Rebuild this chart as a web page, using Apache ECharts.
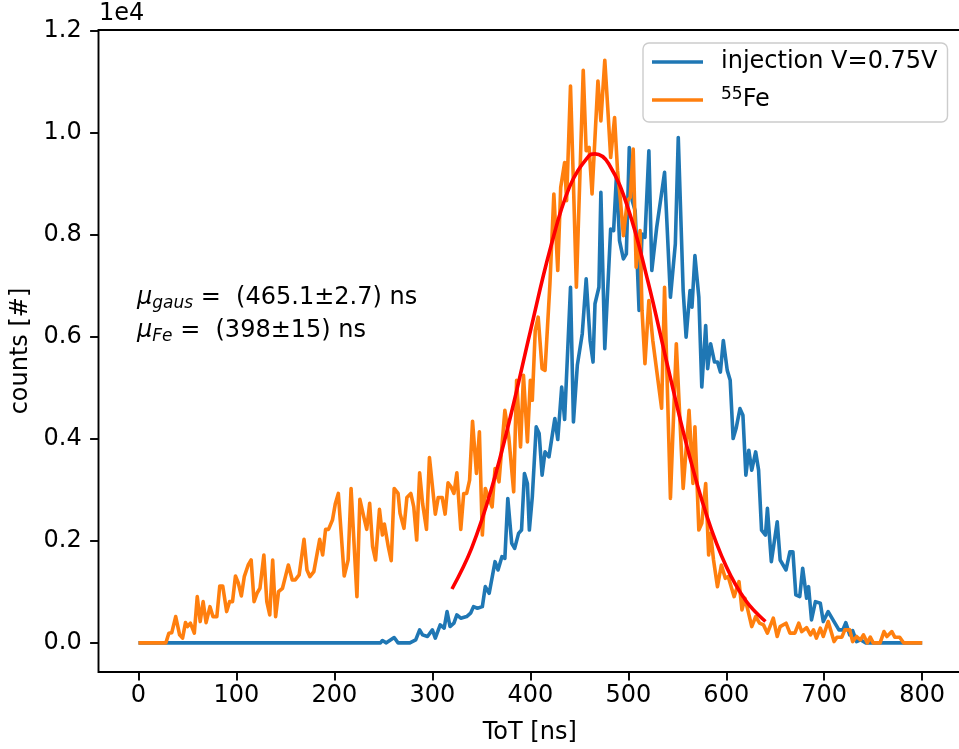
<!DOCTYPE html>
<html>
<head>
<meta charset="utf-8">
<script src="https://cdn.jsdelivr.net/npm/echarts@6/dist/echarts.min.js"></script>
<style>html,body{margin:0;padding:0;background:#fff;}#c{width:959px;height:749px;}</style>
</head>
<body>
<div id="c"></div>
<script>
// ---- data ----
const xTicks = [0, 100, 200, 300, 400, 500, 600, 700, 800];
const yTicks = [0, 2000, 4000, 6000, 8000, 10000, 12000];

const injName = 'injection V=0.75V';
const feName = '55Fe';

const injX = [0,247,249,253,261,265,277,283,287,290,295,300,303,308,312,315,318,322,325,329,335,339,342,346,351,354,358,364,367,371,374,377,381,384,388,391,394,397,399,402,406,409,412,415,419,425,428,432,435,441,444,448,453,457,461,464,466,470,472,476,482,485,488,491,495,498,501,504,507,511,514,517,521,524,529,537,543,548,551,556,559,563,565,568,572,575,579,581,584,588,591,594,597,601,604,607,610,614,617,620,623,626,630,633,636,640,642,646,652,655,661,665,668,671,675,678,682,684,687,691,696,699,704,710,715,719,722,726,729,733,737,742,800];
const injY = [0,0,45,0,104,0,0,59,254,157,124,254,92,352,287,613,320,385,548,483,515,581,710,679,710,1102,972,1592,1429,1690,1658,2832,1951,1853,2147,2212,3322,3126,2212,2864,4235,4105,3289,3745,3647,4399,3987,5017,4380,6975,4333,5450,6063,7139,5931,5507,6650,6975,8835,5769,8118,8085,9195,7889,7531,7629,9716,8672,8476,6519,8020,7954,9651,7302,8150,9227,6779,7824,9911,6910,5996,6910,6584,7596,6779,5017,6225,5378,5867,5507,5507,5311,5931,5344,5149,4007,4203,4594,4463,3289,3778,3387,3745,3387,2212,2114,2637,1592,2375,1625,1429,1787,1787,940,906,1462,875,1102,450,808,777,417,613,417,254,254,397,157,241,25,59,0,0];

const feX = [0,28,31,34,38,42,45,48,50,53,57,60,63,66,69,73,76,80,83,86,90,93,96,99,102,105,108,112,115,118,121,124,128,131,134,137,140,143,147,150,153,157,160,164,169,172,175,179,185,188,191,194,198,201,204,210,214,217,223,226,230,233,236,239,242,246,249,251,255,258,261,265,267,271,274,278,281,284,287,290,294,297,303,306,310,313,316,319,322,325,329,332,335,338,341,345,348,351,354,357,361,364,368,374,378,383,386,390,393,397,400,402,405,408,412,415,420,424,428,431,435,437,441,444,447,454,457,460,463,469,472,476,479,482,486,489,492,495,499,502,505,508,512,514,517,521,525,534,537,543,549,556,562,566,568,572,575,579,582,584,587,591,595,599,602,608,613,616,619,622,626,630,634,638,642,648,652,655,661,665,670,674,677,682,686,689,692,696,699,704,710,713,718,721,726,729,733,737,740,744,747,750,757,761,764,769,772,777,781,800];
const feY = [0,0,190,200,515,157,92,397,320,385,190,906,417,808,397,710,515,515,1116,1116,613,808,808,1311,1168,920,1298,1527,1625,808,972,1070,1723,808,548,1625,515,1004,1070,1298,1527,1233,1233,1331,2030,1429,1298,1396,2030,1723,2226,2226,2408,2735,2930,1311,1625,3028,906,2813,2472,2226,2735,1885,1625,2617,2114,2330,1885,1611,3028,2930,2539,2245,2852,2930,2668,2016,3334,2735,2226,3635,2525,2852,2852,2525,3138,3060,2930,3334,2226,2930,2930,3191,4346,3322,4137,2114,3028,2864,2668,3420,3158,4561,4039,2962,5149,3843,5246,3941,5149,4757,6127,6388,5378,5344,7041,8804,7302,8933,9422,8672,10923,9000,6975,11231,9651,9716,8804,11021,10238,11427,10499,9520,10303,9260,8672,7987,8672,8737,9684,7366,8085,6519,5475,6715,5931,4600,6975,2833,5867,3028,4561,3126,4235,2212,2343,3126,1723,2147,1625,1102,1527,1266,1298,906,1200,646,875,646,319,515,385,352,190,483,124,319,385,190,190,385,221,300,157,254,92,287,124,417,25,111,111,254,254,25,124,59,157,0,111,0,0,221,124,221,111,111,0,0];

const fitX = [320,340,360,380,400,420,440,460,466,480,500,520,540,560,580,600,620,640];
const fitY = [1056,1854,2997,4460,6110,7704,8942,9555,9590,9397,8508,7092,5441,3843,2498,1495,824,418];

const pairs = (xs, ys) => xs.map((x, i) => [x, ys[i]]);
const FONT = 'DejaVu Sans';
const FS = 24;

const chart = echarts.init(document.getElementById('c'), null, {renderer: 'canvas'});
const mathRich = {
  mu: {fontFamily: FONT, fontStyle: 'italic', fontSize: FS, fill: '#000', lineHeight: 28},
  sub: {fontFamily: FONT, fontStyle: 'italic', fontSize: 17, fill: '#000', verticalAlign: 'bottom', lineHeight: 16},
  t: {fontFamily: FONT, fontSize: FS, fill: '#000', lineHeight: 28}
};
chart.setOption({
  animation: false,
  backgroundColor: '#fff',
  grid: {
    left: 98.5, top: 30, width: 862.5, height: 642,
    show: true, borderColor: '#000', borderWidth: 1.9, backgroundColor: 'transparent',
    containLabel: false, outerBoundsMode: 'none'
  },
  xAxis: {
    type: 'value', min: -40.8, max: 839.6,
    name: 'ToT [ns]', nameLocation: 'middle', nameGap: 49,
    nameTextStyle: {fontFamily: FONT, fontSize: FS, color: '#000'},
    axisLine: {show: false, onZero: false},
    splitLine: {show: false},
    axisTick: {show: true, customValues: xTicks, length: 8.4, lineStyle: {color: '#000', width: 1.9}},
    axisLabel: {customValues: xTicks, margin: 12, fontFamily: FONT, fontSize: FS, color: '#000'}
  },
  yAxis: {
    type: 'value', min: -572, max: 12020,
    name: 'counts [#]', nameLocation: 'middle', nameGap: 63,
    nameTextStyle: {fontFamily: FONT, fontSize: FS, color: '#000'},
    axisLine: {show: false, onZero: false},
    splitLine: {show: false},
    axisTick: {show: true, customValues: yTicks, length: 8.4, lineStyle: {color: '#000', width: 1.9}},
    axisLabel: {customValues: yTicks, margin: 16.8, fontFamily: FONT, fontSize: FS, color: '#000',
      formatter: v => (v / 10000).toFixed(1)}
  },
  legend: {
    data: [injName, feName],
    orient: 'vertical', left: 643, top: 43,
    icon: 'rect', itemWidth: 51, itemHeight: 3.6, itemGap: 12,
    padding: [7, 10, 10, 9],
    backgroundColor: 'rgba(255,255,255,0.8)', borderColor: '#cccccc', borderWidth: 1.4, borderRadius: 6,
    formatter: name => name === feName ? '{sup|55}{n|Fe}' : '{n|' + name + '}',
    textStyle: {
      padding: [0, 0, 0, 13],
      rich: {
        n: {fontFamily: FONT, fontSize: FS, color: '#000', lineHeight: 28},
        sup: {fontFamily: FONT, fontSize: 17, color: '#000', verticalAlign: 'top', lineHeight: 17}
      }
    }
  },
  graphic: [
    {type: 'text', left: 99, top: 2, style: {text: '1e4', fontFamily: FONT, fontSize: FS, fill: '#000'}},
    {type: 'text', left: 137, top: 286, style: {text: '{mu|μ}{sub|gaus}{t| =  (465.1±2.7) ns}', rich: mathRich}},
    {type: 'text', left: 137, top: 319, style: {text: '{mu|μ}{sub|Fe}{t| =  (398±15) ns}', rich: mathRich}}
  ],
  series: [
    {name: injName, type: 'line', data: pairs(injX, injY), showSymbol: false, symbol: 'none',
     lineStyle: {color: '#1f77b4', width: 3.6, join: 'round'}, itemStyle: {color: '#1f77b4'}, z: 2},
    {name: feName, type: 'line', data: pairs(feX, feY), showSymbol: false, symbol: 'none',
     lineStyle: {color: '#ff7f0e', width: 3.6, join: 'round'}, itemStyle: {color: '#ff7f0e'}, z: 3},
    {name: 'fit', type: 'line', data: pairs(fitX, fitY), showSymbol: false, symbol: 'none', smooth: 0.4,
     lineStyle: {color: '#ff0000', width: 3.6}, itemStyle: {color: '#ff0000'}, z: 4}
  ]
});
</script>
</body>
</html>
